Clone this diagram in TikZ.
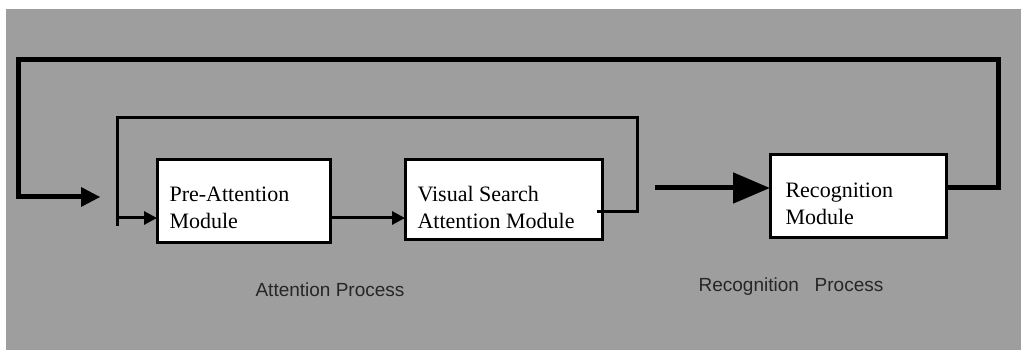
\documentclass[tikz,border=0pt]{standalone}
\usepackage{fontspec}
\setmainfont{Liberation Serif}
\setsansfont{Liberation Sans}
\usetikzlibrary{arrows.meta}
\begin{document}
\begin{tikzpicture}[x=1pt,y=-1pt,
  modtext/.style={font=\fontsize{22}{27}\selectfont,align=left,anchor=west},
  modframe/.style={line width=3pt,fill=white},
  thickline/.style={line width=5pt},
  midline/.style={line width=3pt},
  smallarrow/.style={line width=3pt,-{Triangle[length=13pt,width=13pt]}},
  label/.style={font=\sffamily\fontsize{19}{23}\selectfont,text=black!85}]
\useasboundingbox (0,0) rectangle (1026,355);
\fill[white] (0,0) rectangle (1026,355);
\fill[black!38] (6,9) rectangle (1021,350);
% boxes
\draw[modframe] (157,160) rectangle (330,243);
\node[modtext] (pre) at (166,208) {Pre-Attention\\Module};
\draw[modframe] (405,160) rectangle (602,240);
\node[modtext] (vs) at (414,207) {Visual Search\\Attention Module};
\draw[modframe] (770,155) rectangle (946,238);
\node[modtext] (rec) at (782,204) {Recognition\\Module};
% coordinates
\coordinate (preW) at (157,218);
\coordinate (preE) at (330,218);
\coordinate (vsW) at (405,218);
\coordinate (vsE) at (597,212);
\coordinate (recW) at (770,188);
\coordinate (recE) at (946,188);
\coordinate (outTR) at (998,188);
\coordinate (inL) at (117,218);
\coordinate (inEnd) at (100,197);
\coordinate (bigStart) at (655,188);
% outer feedback loop
\draw[thickline] (recE) -- (outTR) -- (998,60) -- (18,60) -- (18,197) -- (84,197);
\fill (inEnd) -- (81,187) -- (81,207) -- cycle;
% inner loop
\draw[midline] (vsE) -- (637,212) -- (637,118) -- (117,118) -- (117,226);
\draw[smallarrow] (inL) -- (preW);
\draw[smallarrow] (preE) -- (vsW);
% big arrow to recognition
\draw[line width=5pt,-{Triangle[length=37pt,width=30pt]}] (bigStart) -- (recW);
% labels
\node[label] (att) at (330,290) {Attention Process};
\node[label] (recp) at (791,287) {Recognition\ \ \ Process};
\end{tikzpicture}
\end{document}
